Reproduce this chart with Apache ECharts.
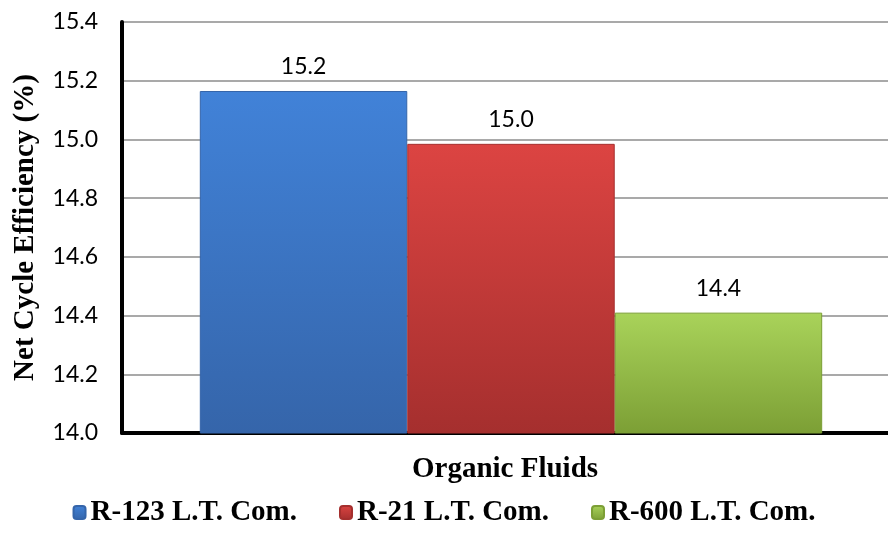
<!DOCTYPE html>
<html>
<head>
<meta charset="utf-8">
<script src="https://cdn.jsdelivr.net/npm/echarts@6/dist/echarts.min.js"></script>
<style>
	html, body { margin: 0; padding: 0; background: #fff; }
	#chart { width: 888px; height: 542px; }
</style>
</head>
<body>
<div id="chart"></div>
<script>
	var categories = ['Organic Fluids']
	var seriesNames = ['R-123 L.T. Com.', 'R-21 L.T. Com.', 'R-600 L.T. Com.']
	var seriesValues = [15.165, 14.985, 14.41]
	var yTicks = { min: 14.0, max: 15.4, interval: 0.2 }

	// top / bottom colours of each bar
	var colors = [
		['#4182d8', '#3565aa'],
		['#dc4442', '#a52f2e'],
		['#a9d35a', '#7c9f35']
	]

	var myChart = echarts.init(document.getElementById('chart'))

	var series = []
	for (var i = 0; i < seriesNames.length; i++) {
		series.push({
			name: seriesNames[i],
			type: 'bar',
			data: [seriesValues[i]],
			barGap: '0%',
			barCategoryGap: '20%',
			itemStyle: {
				color: new echarts.graphic.LinearGradient(0, 0, 0, 1, [
					{ offset: 0, color: colors[i][0] },
					{ offset: 1, color: colors[i][1] }
				]),
				borderColor: colors[i][1],
				borderWidth: 1
			},
			label: {
				show: true,
				position: 'top',
				distance: 13,
				fontFamily: 'Lato',
				fontSize: 23,
				color: '#000',
				formatter: function (p) {
					return p.value.toFixed(1)
				}
			}
		})
	}

	var titleFont = {
		fontFamily: 'Liberation Serif',
		fontWeight: 'bold',
		fontSize: 29,
		color: '#000'
	}

	var option = {
		animation: false,
		grid: {
			left: 122,
			width: 778,
			top: 22,
			bottom: 109,
			outerBoundsMode: 'none'
		},
		legend: {
			data: seriesNames,
			bottom: 10,
			left: 'center',
			itemWidth: 12,
			itemHeight: 13,
			itemGap: 42,
			textStyle: titleFont
		},
		xAxis: {
			type: 'category',
			data: categories,
			name: 'Organic Fluids',
			nameLocation: 'middle',
			nameGap: 22,
			nameTextStyle: Object.assign({}, titleFont, { padding: [0, 12, 0, 0] }),
			axisLine: { lineStyle: { color: '#000', width: 4 } },
			axisTick: { show: false },
			axisLabel: { show: false }
		},
		yAxis: {
			type: 'value',
			min: yTicks.min,
			max: yTicks.max,
			interval: yTicks.interval,
			name: 'Net Cycle Efficiency (%)',
			nameLocation: 'middle',
			nameGap: 82,
			nameTextStyle: titleFont,
			axisLine: { show: true, lineStyle: { color: '#000', width: 4 } },
			axisTick: { show: false },
			axisLabel: {
				fontFamily: 'Lato',
				fontSize: 23,
				color: '#000',
				margin: 24,
				formatter: function (v) {
					return v.toFixed(1)
				}
			},
			splitLine: { lineStyle: { color: '#8c8c8c', width: 1.5 } }
		},
		series: series
	}

	myChart.setOption(option)
</script>
</body>
</html>
